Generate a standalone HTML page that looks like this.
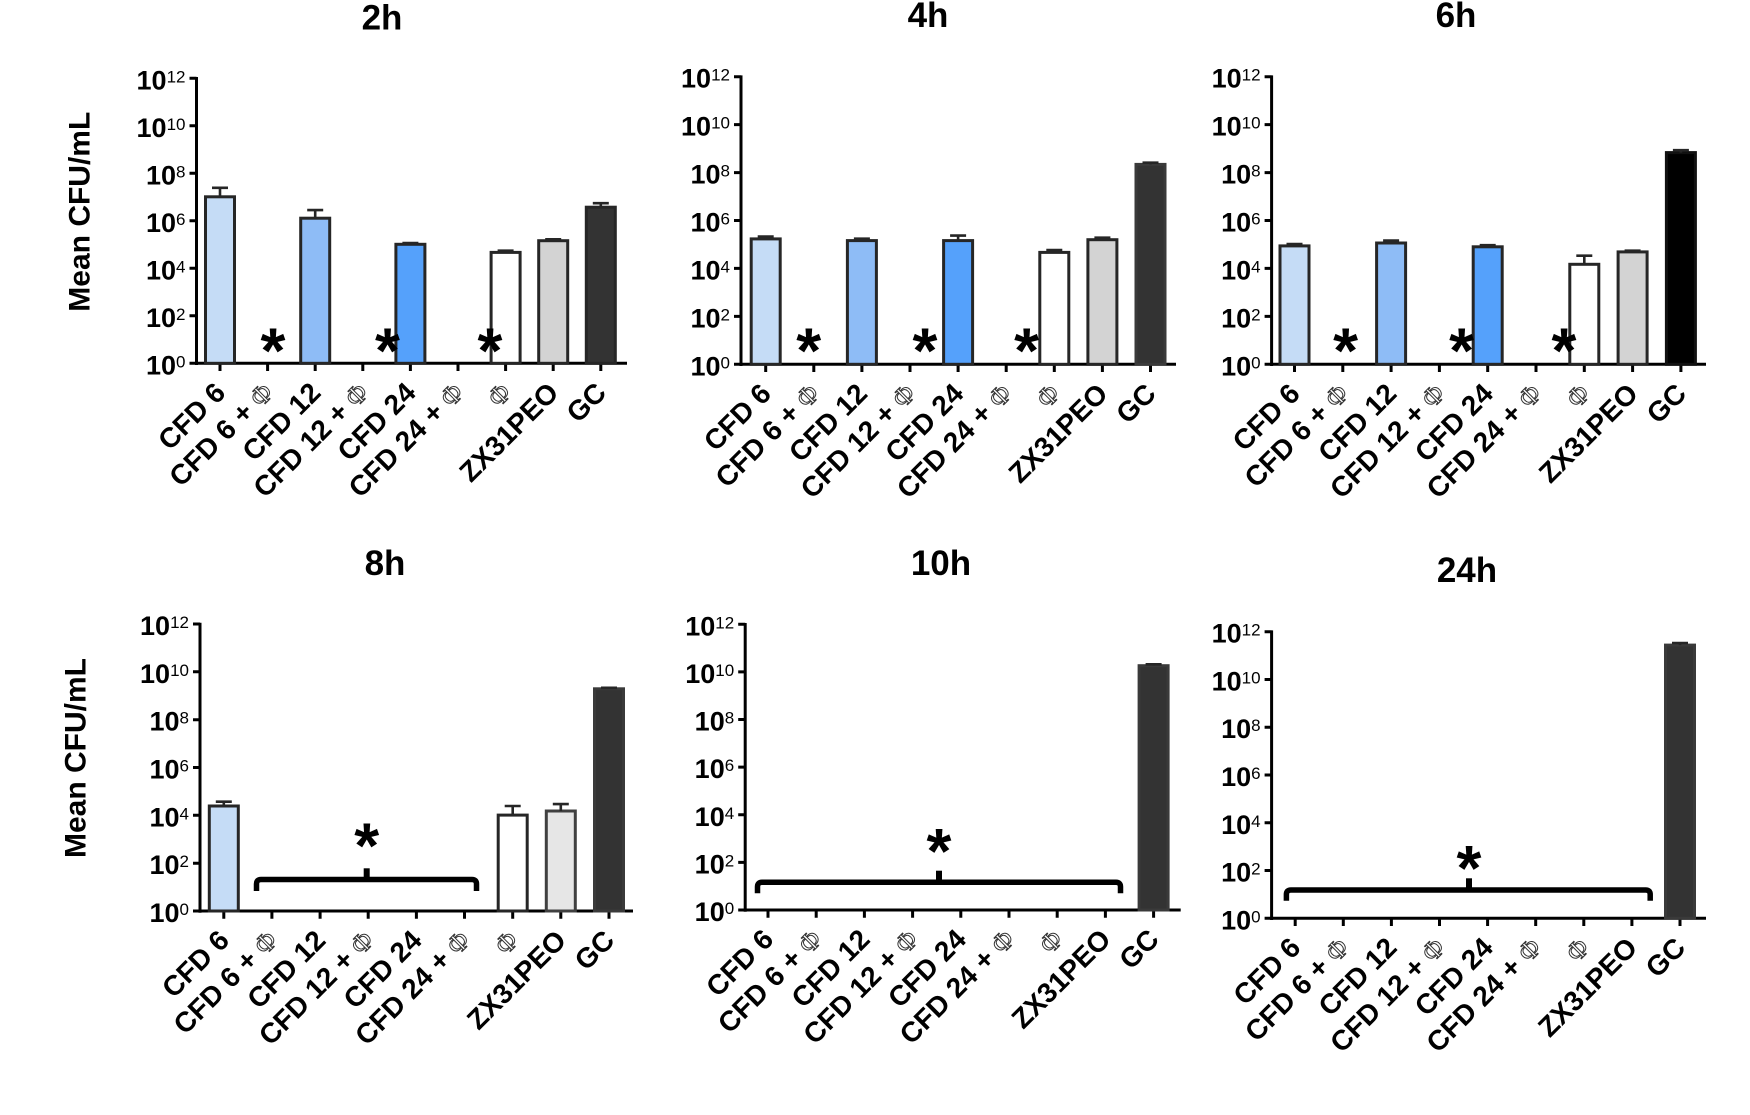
<!DOCTYPE html>
<html><head><meta charset="utf-8"><style>
html,body{margin:0;padding:0;background:#fff;}
svg{display:block;}
text{font-family:"Liberation Sans",Arial,sans-serif;fill:#000;}
.tt{font-size:35px;font-weight:bold;}
.yl{font-size:30px;font-weight:bold;}
.tl{font-size:27px;font-weight:bold;}
.sup{font-size:17px;font-weight:normal;}
.xl{font-size:28px;font-weight:bold;}
.phi{font-family:"Liberation Serif","DejaVu Serif",serif;font-weight:normal;font-size:27px;fill:#fff;stroke:#333;stroke-width:1;}
.star{font-size:64px;font-weight:bold;}
.ax{stroke:#000;stroke-width:3;fill:none;}
.bar{stroke:#262626;stroke-width:3;}
.eb{stroke:#262626;stroke-width:2.6;fill:none;}
.br{stroke:#000;stroke-width:5.5;fill:none;}
</style></head><body>
<svg width="1750" height="1115" viewBox="0 0 1750 1115" xmlns="http://www.w3.org/2000/svg">
<rect width="1750" height="1115" fill="#fff"/>

<!-- ================= PANEL 1 : 2h ================= -->
<text class="tt" x="382" y="29.5" text-anchor="middle">2h</text>
<text class="yl" text-anchor="middle" transform="translate(89.6,211.7) rotate(-90)">Mean CFU/mL</text>
<path class="ax" d="M196.5 77V365 M189.5 363.3H627 M189.5 315.8H196.5 M189.5 268.3H196.5 M189.5 220.8H196.5 M189.5 173.3H196.5 M189.5 125.8H196.5 M189.5 78.3H196.5"/>
<path class="ax" d="M220 363.3v7.7 M267.6 363.3v7.7 M315.2 363.3v7.7 M362.8 363.3v7.7 M410.4 363.3v7.7 M458 363.3v7.7 M505.6 363.3v7.7 M553.2 363.3v7.7 M600.8 363.3v7.7"/>
<text class="tl" x="185.5" y="374.3" text-anchor="end">10<tspan class="sup" dy="-7">0</tspan></text>
<text class="tl" x="185.5" y="326.8" text-anchor="end">10<tspan class="sup" dy="-7">2</tspan></text>
<text class="tl" x="185.5" y="279.3" text-anchor="end">10<tspan class="sup" dy="-7">4</tspan></text>
<text class="tl" x="185.5" y="231.8" text-anchor="end">10<tspan class="sup" dy="-7">6</tspan></text>
<text class="tl" x="185.5" y="184.3" text-anchor="end">10<tspan class="sup" dy="-7">8</tspan></text>
<text class="tl" x="185.5" y="136.8" text-anchor="end">10<tspan class="sup" dy="-7">10</tspan></text>
<text class="tl" x="185.5" y="89.3" text-anchor="end">10<tspan class="sup" dy="-7">12</tspan></text>
<rect class="bar" x="205.5" y="196.8" width="29" height="166.5" fill="#c5dcf6"/>
<rect class="bar" x="300.7" y="218.2" width="29" height="145.1" fill="#8ebcf6"/>
<rect class="bar" x="395.9" y="244.3" width="29" height="119" fill="#55a1fb"/>
<rect class="bar" x="491.1" y="252.4" width="29" height="110.9" fill="#ffffff"/>
<rect class="bar" x="538.7" y="240.7" width="29" height="122.6" fill="#d3d3d3"/>
<rect class="bar" x="586.3" y="207.2" width="29" height="156.1" fill="#333333"/>
<path class="eb" d="M220 196.8V187.8M212 187.8H228 M315.2 218.2V210.1M307.2 210.1H323.2 M410.4 244.3V243.1M402.4 243.1H418.4 M505.6 252.4V250.7M497.6 250.7H513.6 M553.2 240.7V239.3M545.2 239.3H561.2 M600.8 207.2V203.2M592.8 203.2H608.8"/>
<text class="star" x="273" y="372.7" text-anchor="middle">*</text>
<text class="star" x="387.5" y="372.7" text-anchor="middle">*</text>
<text class="star" x="490" y="372.7" text-anchor="middle">*</text>
<text class="xl" text-anchor="end" transform="translate(227,394.3) rotate(-45)">CFD 6</text>
<text class="xl" text-anchor="end" transform="translate(274.6,394.3) rotate(-45)">CFD 6 + <tspan class="phi">Φ</tspan></text>
<text class="xl" text-anchor="end" transform="translate(322.2,394.3) rotate(-45)">CFD 12</text>
<text class="xl" text-anchor="end" transform="translate(369.8,394.3) rotate(-45)">CFD 12 + <tspan class="phi">Φ</tspan></text>
<text class="xl" text-anchor="end" transform="translate(417.4,394.3) rotate(-45)">CFD 24</text>
<text class="xl" text-anchor="end" transform="translate(465,394.3) rotate(-45)">CFD 24 + <tspan class="phi">Φ</tspan></text>
<text class="xl" text-anchor="end" transform="translate(512.6,394.3) rotate(-45)"><tspan class="phi">Φ</tspan></text>
<text class="xl" text-anchor="end" transform="translate(560.2,394.3) rotate(-45)">ZX31PEO</text>
<text class="xl" text-anchor="end" transform="translate(607.8,394.3) rotate(-45)">GC</text>

<!-- ================= PANEL 2 : 4h ================= -->
<text class="tt" x="928" y="27" text-anchor="middle">4h</text>
<path class="ax" d="M741 75.4V366 M734 364.3H1176 M734 316.4H741 M734 268.4H741 M734 220.5H741 M734 172.6H741 M734 124.6H741 M734 76.7H741"/>
<path class="ax" d="M765.7 364.3v7.7 M813.8 364.3v7.7 M861.9 364.3v7.7 M910 364.3v7.7 M958.1 364.3v7.7 M1006.2 364.3v7.7 M1054.3 364.3v7.7 M1102.4 364.3v7.7 M1150.5 364.3v7.7"/>
<text class="tl" x="730" y="375.3" text-anchor="end">10<tspan class="sup" dy="-7">0</tspan></text>
<text class="tl" x="730" y="327.4" text-anchor="end">10<tspan class="sup" dy="-7">2</tspan></text>
<text class="tl" x="730" y="279.4" text-anchor="end">10<tspan class="sup" dy="-7">4</tspan></text>
<text class="tl" x="730" y="231.5" text-anchor="end">10<tspan class="sup" dy="-7">6</tspan></text>
<text class="tl" x="730" y="183.6" text-anchor="end">10<tspan class="sup" dy="-7">8</tspan></text>
<text class="tl" x="730" y="135.6" text-anchor="end">10<tspan class="sup" dy="-7">10</tspan></text>
<text class="tl" x="730" y="87.7" text-anchor="end">10<tspan class="sup" dy="-7">12</tspan></text>
<rect class="bar" x="751.2" y="238.9" width="29" height="125.4" fill="#c5dcf6"/>
<rect class="bar" x="847.4" y="240.6" width="29" height="123.7" fill="#8ebcf6"/>
<rect class="bar" x="943.6" y="240.6" width="29" height="123.7" fill="#55a1fb"/>
<rect class="bar" x="1039.8" y="252.4" width="29" height="111.9" fill="#ffffff"/>
<rect class="bar" x="1087.9" y="239.7" width="29" height="124.6" fill="#d3d3d3"/>
<rect class="bar" x="1136" y="164.4" width="29" height="199.9" fill="#333333" style="stroke:#3a3a3a"/>
<path class="eb" d="M765.7 238.9V236.5M757.7 236.5H773.7 M861.9 240.6V238.7M853.9 238.7H869.9 M958.1 240.6V235.6M950.1 235.6H966.1 M1054.3 252.4V250M1046.3 250H1062.3 M1102.4 239.7V237.7M1094.4 237.7H1110.4 M1150.5 164.4V162.7M1142.5 162.7H1158.5"/>
<text class="star" x="808.7" y="372.7" text-anchor="middle">*</text>
<text class="star" x="925" y="372.7" text-anchor="middle">*</text>
<text class="star" x="1026.6" y="372.7" text-anchor="middle">*</text>
<text class="xl" text-anchor="end" transform="translate(772.7,395.3) rotate(-45)">CFD 6</text>
<text class="xl" text-anchor="end" transform="translate(820.8,395.3) rotate(-45)">CFD 6 + <tspan class="phi">Φ</tspan></text>
<text class="xl" text-anchor="end" transform="translate(868.9,395.3) rotate(-45)">CFD 12</text>
<text class="xl" text-anchor="end" transform="translate(917,395.3) rotate(-45)">CFD 12 + <tspan class="phi">Φ</tspan></text>
<text class="xl" text-anchor="end" transform="translate(965.1,395.3) rotate(-45)">CFD 24</text>
<text class="xl" text-anchor="end" transform="translate(1013.2,395.3) rotate(-45)">CFD 24 + <tspan class="phi">Φ</tspan></text>
<text class="xl" text-anchor="end" transform="translate(1061.3,395.3) rotate(-45)"><tspan class="phi">Φ</tspan></text>
<text class="xl" text-anchor="end" transform="translate(1109.4,395.3) rotate(-45)">ZX31PEO</text>
<text class="xl" text-anchor="end" transform="translate(1157.5,395.3) rotate(-45)">GC</text>

<!-- ================= PANEL 3 : 6h ================= -->
<text class="tt" x="1456" y="27" text-anchor="middle">6h</text>
<path class="ax" d="M1271.6 75.4V366 M1264.6 364.3H1706 M1264.6 316.4H1271.6 M1264.6 268.4H1271.6 M1264.6 220.5H1271.6 M1264.6 172.6H1271.6 M1264.6 124.6H1271.6 M1264.6 76.7H1271.6"/>
<path class="ax" d="M1294.5 364.3v7.7 M1342.8 364.3v7.7 M1391.1 364.3v7.7 M1439.4 364.3v7.7 M1487.7 364.3v7.7 M1536 364.3v7.7 M1584.3 364.3v7.7 M1632.6 364.3v7.7 M1680.9 364.3v7.7"/>
<text class="tl" x="1260.6" y="375.3" text-anchor="end">10<tspan class="sup" dy="-7">0</tspan></text>
<text class="tl" x="1260.6" y="327.4" text-anchor="end">10<tspan class="sup" dy="-7">2</tspan></text>
<text class="tl" x="1260.6" y="279.4" text-anchor="end">10<tspan class="sup" dy="-7">4</tspan></text>
<text class="tl" x="1260.6" y="231.5" text-anchor="end">10<tspan class="sup" dy="-7">6</tspan></text>
<text class="tl" x="1260.6" y="183.6" text-anchor="end">10<tspan class="sup" dy="-7">8</tspan></text>
<text class="tl" x="1260.6" y="135.6" text-anchor="end">10<tspan class="sup" dy="-7">10</tspan></text>
<text class="tl" x="1260.6" y="87.7" text-anchor="end">10<tspan class="sup" dy="-7">12</tspan></text>
<rect class="bar" x="1280" y="245.9" width="29" height="118.4" fill="#c5dcf6"/>
<rect class="bar" x="1376.6" y="243" width="29" height="121.3" fill="#8ebcf6"/>
<rect class="bar" x="1473.2" y="246.8" width="29" height="117.5" fill="#55a1fb"/>
<rect class="bar" x="1569.8" y="264.3" width="29" height="100" fill="#ffffff"/>
<rect class="bar" x="1618.1" y="251.9" width="29" height="112.4" fill="#d3d3d3"/>
<rect class="bar" x="1666.4" y="152.6" width="29" height="211.7" fill="#000000" style="stroke:#111"/>
<path class="eb" d="M1294.5 245.9V244M1286.5 244H1302.5 M1391.1 243V240.6M1383.1 240.6H1399.1 M1487.7 246.8V245.2M1479.7 245.2H1495.7 M1584.3 264.3V255.7M1576.3 255.7H1592.3 M1632.6 251.9V250.7M1624.6 250.7H1640.6 M1680.9 152.6V150.2M1672.9 150.2H1688.9"/>
<text class="star" x="1345.6" y="372.7" text-anchor="middle">*</text>
<text class="star" x="1461.6" y="372.7" text-anchor="middle">*</text>
<text class="star" x="1563.9" y="372.7" text-anchor="middle">*</text>
<text class="xl" text-anchor="end" transform="translate(1301.5,395.3) rotate(-45)">CFD 6</text>
<text class="xl" text-anchor="end" transform="translate(1349.8,395.3) rotate(-45)">CFD 6 + <tspan class="phi">Φ</tspan></text>
<text class="xl" text-anchor="end" transform="translate(1398.1,395.3) rotate(-45)">CFD 12</text>
<text class="xl" text-anchor="end" transform="translate(1446.4,395.3) rotate(-45)">CFD 12 + <tspan class="phi">Φ</tspan></text>
<text class="xl" text-anchor="end" transform="translate(1494.7,395.3) rotate(-45)">CFD 24</text>
<text class="xl" text-anchor="end" transform="translate(1543,395.3) rotate(-45)">CFD 24 + <tspan class="phi">Φ</tspan></text>
<text class="xl" text-anchor="end" transform="translate(1591.3,395.3) rotate(-45)"><tspan class="phi">Φ</tspan></text>
<text class="xl" text-anchor="end" transform="translate(1639.6,395.3) rotate(-45)">ZX31PEO</text>
<text class="xl" text-anchor="end" transform="translate(1687.9,395.3) rotate(-45)">GC</text>

<!-- ================= PANEL 4 : 8h ================= -->
<text class="tt" x="385" y="575" text-anchor="middle">8h</text>
<text class="yl" text-anchor="middle" transform="translate(85.4,758) rotate(-90)">Mean CFU/mL</text>
<path class="ax" d="M200 622.7V912.7 M193 911H633 M193 863.2H200 M193 815.3H200 M193 767.5H200 M193 719.7H200 M193 671.8H200 M193 624H200"/>
<path class="ax" d="M223.8 911v7.7 M271.9 911v7.7 M320.1 911v7.7 M368.2 911v7.7 M416.4 911v7.7 M464.5 911v7.7 M512.7 911v7.7 M560.8 911v7.7 M609 911v7.7"/>
<text class="tl" x="189" y="922" text-anchor="end">10<tspan class="sup" dy="-7">0</tspan></text>
<text class="tl" x="189" y="874.2" text-anchor="end">10<tspan class="sup" dy="-7">2</tspan></text>
<text class="tl" x="189" y="826.3" text-anchor="end">10<tspan class="sup" dy="-7">4</tspan></text>
<text class="tl" x="189" y="778.5" text-anchor="end">10<tspan class="sup" dy="-7">6</tspan></text>
<text class="tl" x="189" y="730.7" text-anchor="end">10<tspan class="sup" dy="-7">8</tspan></text>
<text class="tl" x="189" y="682.8" text-anchor="end">10<tspan class="sup" dy="-7">10</tspan></text>
<text class="tl" x="189" y="635" text-anchor="end">10<tspan class="sup" dy="-7">12</tspan></text>
<rect class="bar" x="209.3" y="806" width="29" height="105" fill="#c5dcf6"/>
<rect class="bar" x="498.2" y="815.1" width="29" height="95.9" fill="#ffffff"/>
<rect class="bar" x="546.3" y="811" width="29" height="100" fill="#e6e6e6" style="stroke:#404040"/>
<rect class="bar" x="594.5" y="688.8" width="29" height="222.2" fill="#333333" style="stroke:#3a3a3a"/>
<path class="eb" d="M223.8 806V801.7M215.8 801.7H231.8 M512.7 815.1V806M504.7 806H520.7 M560.8 811V804.1M552.8 804.1H568.8 M609 688.8V687.8M601 687.8H617"/>
<path class="br" d="M256.5 891V884Q256.5 879.5 261 879.5H472Q476.5 879.5 476.5 884V891"/>
<rect x="363.7" y="868.3" width="6" height="12" fill="#000"/>
<text class="star" x="366.7" y="867.7" text-anchor="middle">*</text>
<text class="xl" text-anchor="end" transform="translate(230.8,942) rotate(-45)">CFD 6</text>
<text class="xl" text-anchor="end" transform="translate(278.9,942) rotate(-45)">CFD 6 + <tspan class="phi">Φ</tspan></text>
<text class="xl" text-anchor="end" transform="translate(327.1,942) rotate(-45)">CFD 12</text>
<text class="xl" text-anchor="end" transform="translate(375.2,942) rotate(-45)">CFD 12 + <tspan class="phi">Φ</tspan></text>
<text class="xl" text-anchor="end" transform="translate(423.4,942) rotate(-45)">CFD 24</text>
<text class="xl" text-anchor="end" transform="translate(471.5,942) rotate(-45)">CFD 24 + <tspan class="phi">Φ</tspan></text>
<text class="xl" text-anchor="end" transform="translate(519.7,942) rotate(-45)"><tspan class="phi">Φ</tspan></text>
<text class="xl" text-anchor="end" transform="translate(567.8,942) rotate(-45)">ZX31PEO</text>
<text class="xl" text-anchor="end" transform="translate(616,942) rotate(-45)">GC</text>

<!-- ================= PANEL 5 : 10h ================= -->
<text class="tt" x="941" y="575" text-anchor="middle">10h</text>
<path class="ax" d="M745.2 623V911.7 M738.2 910H1180.7 M738.2 862.4H745.2 M738.2 814.8H745.2 M738.2 767.1H745.2 M738.2 719.5H745.2 M738.2 671.9H745.2 M738.2 624.3H745.2"/>
<path class="ax" d="M768 910v7.7 M816.2 910v7.7 M864.4 910v7.7 M912.6 910v7.7 M960.8 910v7.7 M1009 910v7.7 M1057.2 910v7.7 M1105.4 910v7.7 M1153.6 910v7.7"/>
<text class="tl" x="734.2" y="921" text-anchor="end">10<tspan class="sup" dy="-7">0</tspan></text>
<text class="tl" x="734.2" y="873.4" text-anchor="end">10<tspan class="sup" dy="-7">2</tspan></text>
<text class="tl" x="734.2" y="825.8" text-anchor="end">10<tspan class="sup" dy="-7">4</tspan></text>
<text class="tl" x="734.2" y="778.1" text-anchor="end">10<tspan class="sup" dy="-7">6</tspan></text>
<text class="tl" x="734.2" y="730.5" text-anchor="end">10<tspan class="sup" dy="-7">8</tspan></text>
<text class="tl" x="734.2" y="682.9" text-anchor="end">10<tspan class="sup" dy="-7">10</tspan></text>
<text class="tl" x="734.2" y="635.3" text-anchor="end">10<tspan class="sup" dy="-7">12</tspan></text>
<rect class="bar" x="1139.1" y="665.7" width="29" height="244.3" fill="#333333" style="stroke:#3a3a3a"/>
<path class="eb" d="M1153.6 665.7V664.3M1145.6 664.3H1161.6"/>
<path class="br" d="M757.5 893.3V886.8Q757.5 882.3 762 882.3H1116Q1120.5 882.3 1120.5 886.8V893.3"/>
<rect x="936" y="870.7" width="6" height="12" fill="#000"/>
<text class="star" x="939" y="873" text-anchor="middle">*</text>
<text class="xl" text-anchor="end" transform="translate(775,941) rotate(-45)">CFD 6</text>
<text class="xl" text-anchor="end" transform="translate(823.2,941) rotate(-45)">CFD 6 + <tspan class="phi">Φ</tspan></text>
<text class="xl" text-anchor="end" transform="translate(871.4,941) rotate(-45)">CFD 12</text>
<text class="xl" text-anchor="end" transform="translate(919.6,941) rotate(-45)">CFD 12 + <tspan class="phi">Φ</tspan></text>
<text class="xl" text-anchor="end" transform="translate(967.8,941) rotate(-45)">CFD 24</text>
<text class="xl" text-anchor="end" transform="translate(1016,941) rotate(-45)">CFD 24 + <tspan class="phi">Φ</tspan></text>
<text class="xl" text-anchor="end" transform="translate(1064.2,941) rotate(-45)"><tspan class="phi">Φ</tspan></text>
<text class="xl" text-anchor="end" transform="translate(1112.4,941) rotate(-45)">ZX31PEO</text>
<text class="xl" text-anchor="end" transform="translate(1160.6,941) rotate(-45)">GC</text>

<!-- ================= PANEL 6 : 24h ================= -->
<text class="tt" x="1467" y="582" text-anchor="middle">24h</text>
<path class="ax" d="M1271.6 630.4V920 M1264.6 918.3H1706 M1264.6 870.5H1271.6 M1264.6 822.8H1271.6 M1264.6 775H1271.6 M1264.6 727.2H1271.6 M1264.6 679.5H1271.6 M1264.6 631.7H1271.6"/>
<path class="ax" d="M1295.2 918.3v7.7 M1343.3 918.3v7.7 M1391.4 918.3v7.7 M1439.5 918.3v7.7 M1487.6 918.3v7.7 M1535.7 918.3v7.7 M1583.8 918.3v7.7 M1631.9 918.3v7.7 M1680 918.3v7.7"/>
<text class="tl" x="1260.6" y="929.3" text-anchor="end">10<tspan class="sup" dy="-7">0</tspan></text>
<text class="tl" x="1260.6" y="881.5" text-anchor="end">10<tspan class="sup" dy="-7">2</tspan></text>
<text class="tl" x="1260.6" y="833.8" text-anchor="end">10<tspan class="sup" dy="-7">4</tspan></text>
<text class="tl" x="1260.6" y="786" text-anchor="end">10<tspan class="sup" dy="-7">6</tspan></text>
<text class="tl" x="1260.6" y="738.2" text-anchor="end">10<tspan class="sup" dy="-7">8</tspan></text>
<text class="tl" x="1260.6" y="690.5" text-anchor="end">10<tspan class="sup" dy="-7">10</tspan></text>
<text class="tl" x="1260.6" y="642.7" text-anchor="end">10<tspan class="sup" dy="-7">12</tspan></text>
<rect class="bar" x="1665.5" y="645.1" width="29" height="273.2" fill="#333333" style="stroke:#3a3a3a"/>
<path class="eb" d="M1680 645.1V643M1672 643H1688"/>
<path class="br" d="M1286.4 900.7V894.5Q1286.4 890 1290.9 890H1645.7Q1650.2 890 1650.2 894.5V900.7"/>
<rect x="1466" y="878.3" width="6" height="12" fill="#000"/>
<text class="star" x="1469" y="890" text-anchor="middle">*</text>
<text class="xl" text-anchor="end" transform="translate(1302.2,949.3) rotate(-45)">CFD 6</text>
<text class="xl" text-anchor="end" transform="translate(1350.3,949.3) rotate(-45)">CFD 6 + <tspan class="phi">Φ</tspan></text>
<text class="xl" text-anchor="end" transform="translate(1398.4,949.3) rotate(-45)">CFD 12</text>
<text class="xl" text-anchor="end" transform="translate(1446.5,949.3) rotate(-45)">CFD 12 + <tspan class="phi">Φ</tspan></text>
<text class="xl" text-anchor="end" transform="translate(1494.6,949.3) rotate(-45)">CFD 24</text>
<text class="xl" text-anchor="end" transform="translate(1542.7,949.3) rotate(-45)">CFD 24 + <tspan class="phi">Φ</tspan></text>
<text class="xl" text-anchor="end" transform="translate(1590.8,949.3) rotate(-45)"><tspan class="phi">Φ</tspan></text>
<text class="xl" text-anchor="end" transform="translate(1638.9,949.3) rotate(-45)">ZX31PEO</text>
<text class="xl" text-anchor="end" transform="translate(1687,949.3) rotate(-45)">GC</text>
</svg>
</body></html>
